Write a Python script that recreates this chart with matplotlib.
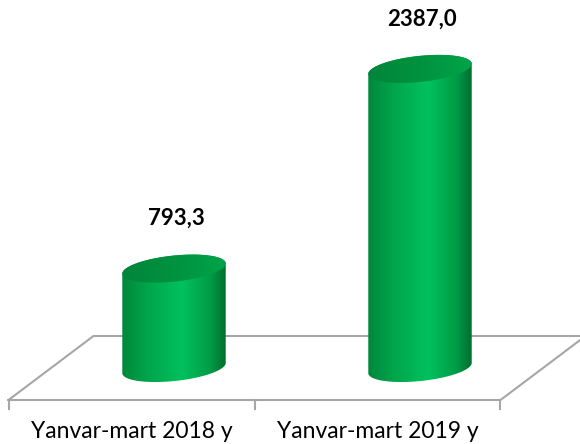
import numpy as np
import matplotlib
matplotlib.use("Agg")
import matplotlib.pyplot as plt
from matplotlib.patches import Polygon
from matplotlib.colors import LinearSegmentedColormap

# ---- data ----
categories = ["Yanvar-mart 2018 y", "Yanvar-mart 2019 y"]
values = [793.3, 2387.0]
value_labels = ["793,3", "2387,0"]

# ---- layout (pixels) ----
W, H = 580, 444
DPI = 100
cat_px = 246.0           # px per category step
bar_cx0 = 174.0          # px of first bar centre
base_px = 368.0          # px (from top) of bottom-ellipse centre
val_px = 0.1253          # px per value unit
ell_a, ell_b, tilt = 52.0, 13.0, np.deg2rad(6)
depth_dx, depth_dy = 85.0, 64.0

fig = plt.figure(figsize=(W / DPI, H / DPI), dpi=DPI)
ax = fig.add_axes([0, 0, 1, 1])
ax.set_xlim(-bar_cx0 / cat_px, (W - bar_cx0) / cat_px)
yb = H - base_px
ax.set_ylim(-yb / val_px, (H - yb) / val_px)
ax.axis("off")

to_data = ax.transData.inverted()

def ell_pts(cx, cy, t):
    x = ell_a * np.cos(t)
    y = ell_b * np.sin(t)
    xr = cx + x * np.cos(tilt) - y * np.sin(tilt)
    yr = cy + x * np.sin(tilt) + y * np.cos(tilt)
    return np.column_stack([xr, yr])

# ---- floor (drawn relative to category positions) ----
p0 = ax.transData.transform((0, 0))
front_y = p0[1] - depth_dy / 2
back_y = p0[1] + depth_dy / 2
fl = p0[0] - depth_dx / 2 - cat_px / 2
fr = fl + cat_px * len(categories)
floor = np.array([[fl, front_y], [fr, front_y], [fr + depth_dx, back_y],
                  [fl + depth_dx, back_y], [fl, front_y]])
fd = to_data.transform(floor)
ax.plot(fd[:, 0], fd[:, 1], color="#a6a6a6", lw=1.5, solid_joinstyle="miter", zorder=1)
for k in range(len(categories) + 1):
    tx = fl + k * cat_px
    seg = to_data.transform(np.array([[tx, front_y], [tx, front_y - 9]]))
    ax.plot(seg[:, 0], seg[:, 1], color="#a6a6a6", lw=1.5, zorder=1)

# ---- cylinders ----
body_cmap = LinearSegmentedColormap.from_list(
    "body", [(0.0, "#00873c"), (0.25, "#00a64b"), (0.58, "#00c15d"),
             (0.85, "#009c45"), (1.0, "#006f30")])
top_cmap = LinearSegmentedColormap.from_list(
    "top", [(0.0, "#00853b"), (0.5, "#00923f"), (1.0, "#00a448")])
grad = np.linspace(0, 1, 256).reshape(1, -1)

for i, (v, lab) in enumerate(zip(values, value_labels)):
    b = ax.transData.transform((i, 0))
    t = ax.transData.transform((i, v))
    bottom = ell_pts(b[0], b[1], np.linspace(np.pi, 2 * np.pi, 80))
    top_half = ell_pts(t[0], t[1], np.linspace(0, np.pi, 80))
    body = to_data.transform(np.vstack([bottom, top_half]))
    poly = Polygon(body, closed=True, facecolor="none", edgecolor="none", zorder=2)
    ax.add_patch(poly)
    x0, x1 = body[:, 0].min(), body[:, 0].max()
    y0, y1 = body[:, 1].min(), body[:, 1].max()
    im = ax.imshow(grad, cmap=body_cmap, extent=[x0, x1, y0, y1], aspect="auto",
                   zorder=2, interpolation="bicubic")
    im.set_clip_path(poly)

    top = to_data.transform(ell_pts(t[0], t[1], np.linspace(0, 2 * np.pi, 160)))
    tpoly = Polygon(top, closed=True, facecolor="none", edgecolor="none", zorder=3)
    ax.add_patch(tpoly)
    tx0, tx1 = top[:, 0].min(), top[:, 0].max()
    ty0, ty1 = top[:, 1].min(), top[:, 1].max()
    tgrad = np.tile(np.linspace(0, 1, 64), (64, 1))
    im2 = ax.imshow(tgrad, cmap=top_cmap, extent=[tx0, tx1, ty0, ty1], aspect="auto",
                    zorder=3, interpolation="bicubic")
    im2.set_clip_path(tpoly)

    ax.annotate(lab, xy=(i, v), xytext=(2, 50), textcoords="offset pixels",
                ha="center", va="center", fontsize=16, fontweight="bold",
                family="Lato", color="black", zorder=5)

# ---- category labels ----
for i, c in enumerate(categories):
    cx = fl + (i + 0.5) * cat_px
    xd, yd = to_data.transform((cx, 6))
    ax.text(xd, yd, c, ha="center", va="baseline", fontsize=16.5, family="Lato",
            color="black", zorder=5)

fig.savefig("out.png", dpi=DPI)
